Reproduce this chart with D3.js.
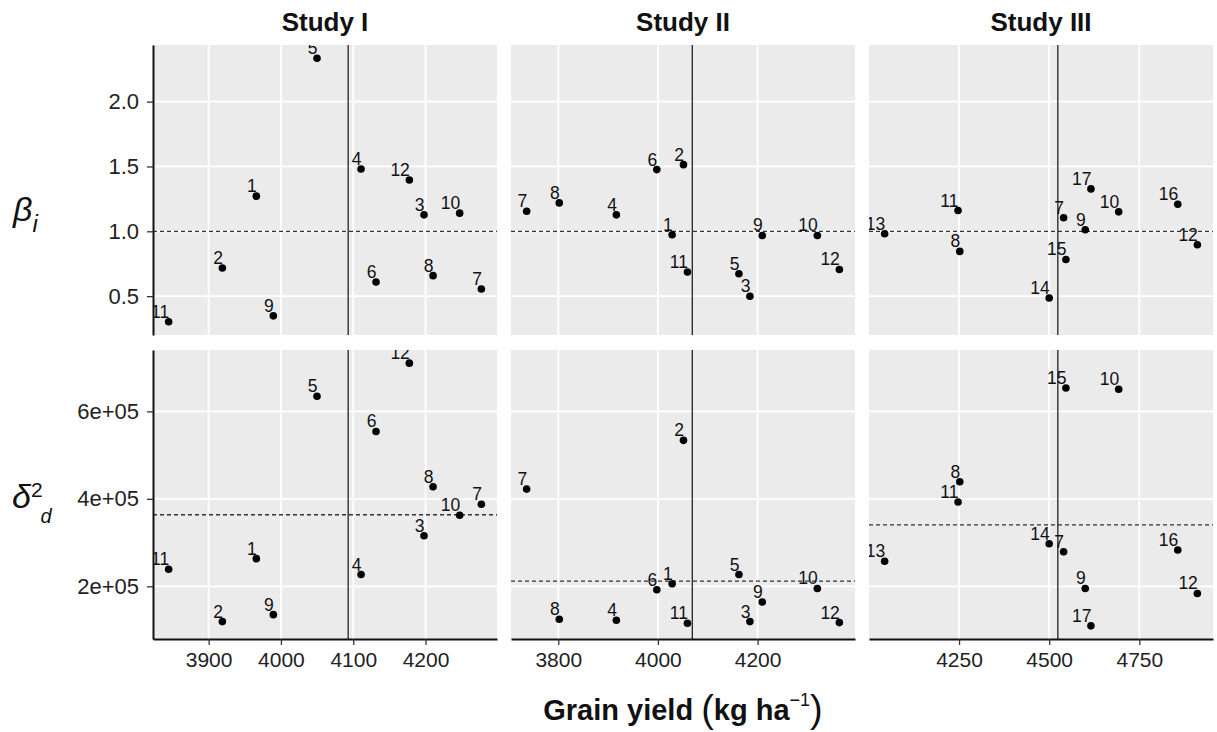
<!DOCTYPE html>
<html><head><meta charset="utf-8">
<script src="https://cdn.jsdelivr.net/npm/d3@7"></script>
<style>
body{margin:0;background:#fff;}
text{font-family:"Liberation Sans",Arial,Helvetica,sans-serif;}
</style>
</head><body>
<svg id="chart" width="1217" height="732"></svg>
<script>
// ---------------- data ----------------
const studies = ["Study I", "Study II", "Study III"];

const genoI  = ["1","2","3","4","5","6","7","8","9","10","11","12"];
const yieldI = [3966, 3919, 4197.9, 4110.8, 4049.9, 4131.5, 4277.2, 4210.4, 3989.5, 4247.2, 3844.7, 4177.6];
const betaI  = [1.271, 0.717, 1.127, 1.481, 2.335, 0.609, 0.555, 0.658, 0.348, 1.140, 0.302, 1.396];
const s2dI   = [263182, 119318, 315455, 226818, 634545, 554091, 387500, 427727, 135227, 362500, 239091, 710227];

const genoII  = ["1","2","3","4","5","6","7","8","9","10","11","12"];
const yieldII = [4028.5, 4051.3, 4184.7, 3916.6, 4162.6, 3997.8, 3736.5, 3802, 4209.4, 4320, 4059.3, 4364.2];
const betaII  = [0.973, 1.514, 0.499, 1.127, 0.673, 1.476, 1.155, 1.219, 0.968, 0.968, 0.686, 0.706];
const s2dII   = [205682, 533636, 119318, 122273, 226818, 192045, 422273, 124545, 164091, 195000, 115455, 117045];

const genoIII  = ["7","8","9","10","11","12","13","14","15","16","17"];
const yieldIII = [4540, 4252, 4600, 4692.8, 4247.2, 4911, 4043.6, 4500, 4546.4, 4856.7, 4615.8];
const betaIII  = [1.104, 0.845, 1.012, 1.150, 1.160, 0.896, 0.981, 0.486, 0.783, 1.209, 1.327];
const s2dIII   = [279091, 439091, 195000, 650455, 392727, 183636, 257273, 297273, 653409, 282955, 109545];

const meanYield = [4093, 4069, 4524];
const meanS2d   = [363600, 211800, 340500];
const betaRef   = 1.0;

const xTicks    = [[3900, 4000, 4100, 4200], [3800, 4000, 4200], [4250, 4500, 4750]];
const betaTicks = [0.5, 1.0, 1.5, 2.0];
const s2dTicks  = [2e5, 4e5, 6e5];

// ---------------- build ----------------
const sets = [
  {geno: genoI, yld: yieldI, beta: betaI, s2d: s2dI},
  {geno: genoII, yld: yieldII, beta: betaII, s2d: s2dII},
  {geno: genoIII, yld: yieldIII, beta: betaIII, s2d: s2dIII}
].map((s, i) => ({
  name: studies[i],
  pts: s.geno.map((g, j) => ({g, x: s.yld[j], beta: s.beta[j], s2d: s.s2d[j]}))
}));

const svg = d3.select("#chart");
const colLeft = [153, 511, 869], colW = 344;
const rowTop = [45, 350], rowH = [290, 289];

function expand(ext, f = 0.05) { const r = ext[1] - ext[0]; return [ext[0] - r * f, ext[1] + r * f]; }

const allPts = sets.flatMap(s => s.pts);
const rows = [
  {key: "beta", ticks: betaTicks, fmt: d3.format(".1f"), ref: () => betaRef,
   dom: expand(d3.extent(allPts, d => d.beta))},
  {key: "s2d", ticks: s2dTicks, fmt: v => v.toExponential(0).replace(/e\+(\d)$/, "e+0$1"),
   ref: i => meanS2d[i], dom: expand(d3.extent(allPts, d => d.s2d))}
];

const defs = svg.append("defs");

sets.forEach((s, ci) => {
  const x = d3.scaleLinear().domain(expand(d3.extent(s.pts, d => d.x))).range([colLeft[ci], colLeft[ci] + colW]);

  // strip title
  svg.append("text").attr("x", colLeft[ci] + colW / 2).attr("y", 31)
    .attr("text-anchor", "middle").attr("font-size", 26).attr("font-weight", "bold")
    .attr("fill", "#111").text(s.name);

  rows.forEach((r, ri) => {
    const y = d3.scaleLinear().domain(r.dom).range([rowTop[ri] + rowH[ri], rowTop[ri]]);
    const g = svg.append("g");
    const x0 = colLeft[ci], x1 = colLeft[ci] + colW, y0 = rowTop[ri], y1 = rowTop[ri] + rowH[ri];

    g.append("rect").attr("x", x0).attr("y", y0).attr("width", colW).attr("height", rowH[ri]).attr("fill", "#EBEBEB");
    // gridlines
    g.selectAll(".gx").data(xTicks[ci]).join("line")
      .attr("x1", d => x(d)).attr("x2", d => x(d)).attr("y1", y0).attr("y2", y1)
      .attr("stroke", "#fff").attr("stroke-width", 1.8);
    g.selectAll(".gy").data(r.ticks).join("line")
      .attr("x1", x0).attr("x2", x1).attr("y1", d => y(d)).attr("y2", d => y(d))
      .attr("stroke", "#fff").attr("stroke-width", 1.8);

    // reference lines
    g.append("line").attr("x1", x0).attr("x2", x1).attr("y1", y(r.ref(ci))).attr("y2", y(r.ref(ci)))
      .attr("stroke", "#333").attr("stroke-width", 1.3).attr("stroke-dasharray", "4,3");
    g.append("line").attr("x1", x(meanYield[ci])).attr("x2", x(meanYield[ci])).attr("y1", y0).attr("y2", y1)
      .attr("stroke", "#222").attr("stroke-width", 1.3);

    // clip
    const cid = `clip${ci}${ri}`;
    defs.append("clipPath").attr("id", cid).append("rect")
      .attr("x", x0).attr("y", y0).attr("width", colW).attr("height", rowH[ri]);
    const cg = g.append("g").attr("clip-path", `url(#${cid})`);

    cg.selectAll("circle").data(s.pts).join("circle")
      .attr("cx", d => x(d.x)).attr("cy", d => y(d[r.key])).attr("r", 3.8).attr("fill", "#000");
    cg.selectAll("text").data(s.pts).join("text")
      .attr("x", d => x(d.x) + 0.5).attr("y", d => y(d[r.key]) - 4)
      .attr("text-anchor", "end").attr("font-size", 17.5).attr("fill", "#111").text(d => d.g);

    // axes
    if (ci === 0) {
      const ax = svg.append("g").attr("transform", `translate(${x0},0)`)
        .call(d3.axisLeft(y).tickValues(r.ticks).tickFormat(r.fmt).tickSize(6).tickSizeOuter(0).tickPadding(8));
      ax.select(".domain").attr("stroke", "#111").attr("stroke-width", 2);
      ax.selectAll(".tick line").attr("stroke", "#333").attr("stroke-width", 1.3);
      ax.selectAll(".tick text").attr("font-size", 22).attr("fill", "#222")
        .attr("font-family", "Liberation Sans, Arial, sans-serif");
    }
    if (ri === 1) {
      const ax = svg.append("g").attr("transform", `translate(0,${y1})`)
        .call(d3.axisBottom(x).tickValues(xTicks[ci]).tickFormat(d3.format("d")).tickSize(6).tickSizeOuter(0).tickPadding(7));
      ax.select(".domain").attr("stroke", "#111").attr("stroke-width", 2);
      ax.selectAll(".tick line").attr("stroke", "#333").attr("stroke-width", 1.3);
      ax.selectAll(".tick text").attr("font-size", 21).attr("fill", "#222")
        .attr("font-family", "Liberation Sans, Arial, sans-serif");
    }
  });
});

// row labels
const bl = svg.append("text").attr("x", 13).attr("y", 221).attr("fill", "#111");
bl.append("tspan").attr("font-size", 34).attr("font-style", "italic").text("β");
bl.append("tspan").attr("font-size", 24).attr("font-style", "italic").attr("dy", 11).text("i");

const dl = svg.append("text").attr("x", 12).attr("y", 508).attr("fill", "#111");
dl.append("tspan").attr("font-size", 34).attr("font-style", "italic").text("δ");
dl.append("tspan").attr("font-size", 21).attr("dy", -11).text("2");
dl.append("tspan").attr("font-size", 20).attr("font-style", "italic").attr("dy", 26).attr("dx", -2).text("d");

// x title
const xt = svg.append("text").attr("x", 683).attr("y", 720).attr("text-anchor", "middle")
  .attr("font-weight", "bold").attr("fill", "#111");
xt.append("tspan").attr("font-size", 29).text("Grain yield ");
xt.append("tspan").attr("font-size", 38).attr("font-weight", "normal").attr("dy", 2).text("(");
xt.append("tspan").attr("font-size", 29).attr("dy", -2).text("kg ha");
xt.append("tspan").attr("font-size", 18).attr("font-weight", "normal").attr("dy", -14).text("−1");
xt.append("tspan").attr("font-size", 38).attr("font-weight", "normal").attr("dy", 16).text(")");
</script>
</body></html>
